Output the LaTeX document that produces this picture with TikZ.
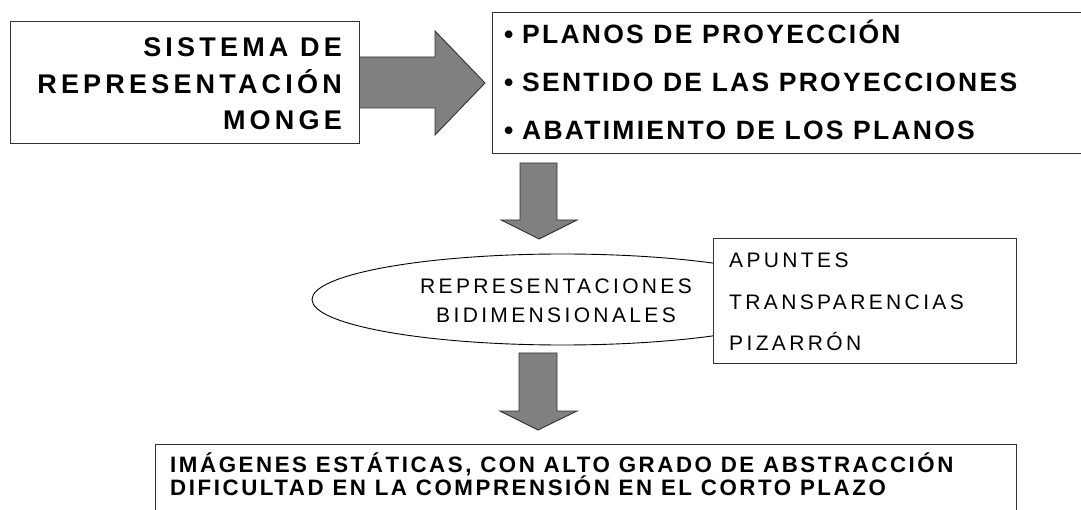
\documentclass[tikz,border=0pt]{standalone}
\usepackage{fontspec}
\setmainfont{Liberation Sans}
\newfontfamily\fone[LetterSpace=15.5]{Liberation Sans}
\newfontfamily\ftwo[LetterSpace=8.5]{Liberation Sans}
\newfontfamily\fthree[LetterSpace=16]{Liberation Sans}
\newfontfamily\ffour[LetterSpace=11.5]{Liberation Sans}
\usetikzlibrary{shapes.geometric}
\definecolor{edge}{HTML}{333333}
\definecolor{arrowgray}{HTML}{808080}
\tikzset{
  box/.style={draw=edge, line width=1.1pt, fill=white, rectangle, inner sep=0pt, anchor=north west},
  blockarrow/.style={draw=edge, line width=0.9pt, fill=arrowgray, line join=miter},
  tone/.style={inner sep=0pt, font=\fone\bfseries\fontsize{27}{30}\selectfont},
  ttwo/.style={inner sep=0pt, font=\ftwo\bfseries\fontsize{26.5}{30}\selectfont},
  tthree/.style={inner sep=0pt, font=\fthree\fontsize{21}{24}\selectfont},
  tfour/.style={inner sep=0pt, font=\ffour\bfseries\fontsize{22.3}{24}\selectfont},
}
\begin{document}
\begin{tikzpicture}[x=1pt,y=-1pt]
\useasboundingbox (0,0) rectangle (1081,510);
\fill[white] (0,0) rectangle (1081,510);

% top-left box
\node[box, minimum width=349pt, minimum height=122pt] (sis) at (10,21) {};
\node[tone, anchor=base east] (s1) at (342,57) {SISTEMA DE};
\node[tone, anchor=base east] (s2) at (342,93.5) {REPRESENTACIÓN};
\node[tone, anchor=base east] (s3) at (342,130) {MONGE};

% top-right box
\node[box, minimum width=598pt, minimum height=141pt] (pla) at (492,12) {};
\node[ttwo, anchor=base west] (b1) at (504,44) {•};
\node[ttwo, anchor=base west] (p1) at (522,44) {PLANOS DE PROYECCIÓN};
\node[ttwo, anchor=base west] (b2) at (504,92) {•};
\node[ttwo, anchor=base west] (p2) at (522,92) {SENTIDO DE LAS PROYECCIONES};
\node[ttwo, anchor=base west] (b3) at (504,139.5) {•};
\node[ttwo, anchor=base west] (p3) at (522,139.5) {ABATIMIENTO DE LOS PLANOS};

% right block arrow
\draw[blockarrow] (sis.east |- 0,57) -- (435,57) -- (435,31) -- (485,83)
  -- (435,135) -- (435,108) -- (sis.east |- 0,108);

% down arrow 1
\draw[blockarrow] (520,163) -- (557,163) -- (557,220) -- (577,220) -- (539,239)
  -- (501,220) -- (520,220) -- cycle;

% ellipse
\node[ellipse, draw=black, line width=0.9pt, minimum width=501pt, minimum height=91pt, inner sep=0pt] (rep) at (562.5,299.5) {};
\node[tthree, anchor=base] (r1) at (556,294) {REPRESENTACIONES};
\node[tthree, anchor=base] (r2) at (556,323) {BIDIMENSIONALES};

% small box
\node[box, minimum width=303pt, minimum height=125pt] (med) at (713,238) {};
\node[tthree, anchor=base west] (m1) at (729,268) {APUNTES};
\node[tthree, anchor=base west] (m2) at (729,310) {TRANSPARENCIAS};
\node[tthree, anchor=base west] (m3) at (729,351) {PIZARRÓN};

% down arrow 2
\draw[blockarrow] (519,353) -- (557,353) -- (557,411) -- (577,411) -- (538,430)
  -- (500,411) -- (519,411) -- cycle;

% bottom box
\node[box, minimum width=861pt, minimum height=80pt] (img) at (155,444) {};
\node[tfour, anchor=base west] (i1) at (170,472.5) {IMÁGENES ESTÁTICAS, CON ALTO GRADO DE ABSTRACCIÓN};
\node[tfour, anchor=base west] (i2) at (170,495.5) {DIFICULTAD EN LA COMPRENSIÓN EN EL CORTO PLAZO};
\end{tikzpicture}
\end{document}
